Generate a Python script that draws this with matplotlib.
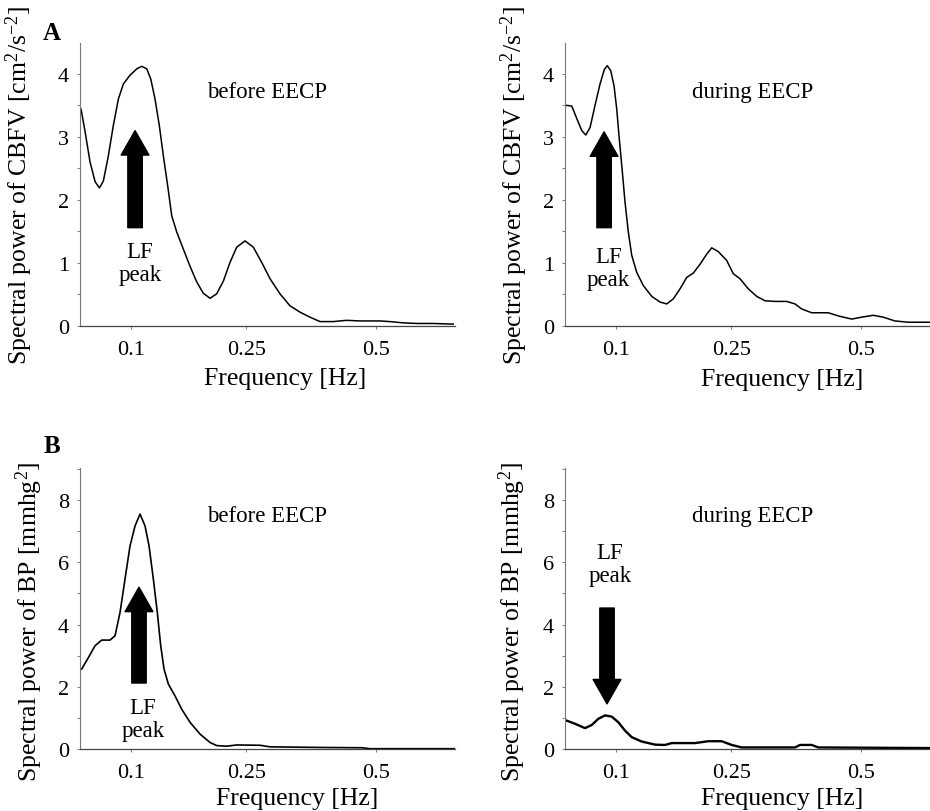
import numpy as np
import matplotlib
matplotlib.use("Agg")
import matplotlib.pyplot as plt
from matplotlib.ticker import MultipleLocator

plt.rcParams['font.family'] = ['Liberation Serif', 'DejaVu Serif']
plt.rcParams['mathtext.fontset'] = 'custom'
plt.rcParams['mathtext.rm'] = 'Liberation Serif'
plt.rcParams['mathtext.it'] = 'Liberation Serif:italic'

# frequencies [Hz] and spectral power
cbfv_before_f = [0.0558, 0.0589, 0.0628, 0.0669, 0.0705, 0.0739, 0.0783, 0.0828,
                 0.0875, 0.0923, 0.0989, 0.1058, 0.1110, 0.1164, 0.1208, 0.1256,
                 0.1305, 0.1352, 0.1404, 0.1452, 0.1514, 0.1597, 0.1683, 0.1772,
                 0.1862, 0.1956, 0.2051, 0.2148, 0.2249, 0.2351, 0.2482, 0.2616,
                 0.2754, 0.2896, 0.3070, 0.3249, 0.3434, 0.3624, 0.3819, 0.4086,
                 0.4364, 0.4649, 0.5095, 0.5326, 0.5640, 0.5966, 0.6382, 0.6904]
cbfv_before_p = [3.44, 3.08, 2.60, 2.29, 2.19, 2.30, 2.70, 3.18,
                 3.60, 3.84, 3.98, 4.08, 4.12, 4.08, 3.92, 3.60,
                 3.18, 2.70, 2.22, 1.75, 1.49, 1.22, 0.95, 0.70,
                 0.52, 0.44, 0.51, 0.71, 1.01, 1.25, 1.35, 1.25,
                 1.01, 0.75, 0.51, 0.32, 0.22, 0.14, 0.07, 0.07,
                 0.09, 0.08, 0.08, 0.07, 0.05, 0.04, 0.04, 0.03]

cbfv_during_f = [0.0563, 0.0602, 0.0642, 0.0683, 0.0717, 0.0754, 0.0798, 0.0844,
                 0.0884, 0.0913, 0.0946, 0.0979, 0.1006, 0.1032, 0.1064, 0.1092,
                 0.1127, 0.1164, 0.1219, 0.1294, 0.1392, 0.1493, 0.1576, 0.1661,
                 0.1750, 0.1840, 0.1932, 0.2027, 0.2125, 0.2199, 0.2299, 0.2429,
                 0.2534, 0.2643, 0.2781, 0.2925, 0.3070, 0.3249, 0.3466, 0.3624,
                 0.3754, 0.3953, 0.4293, 0.4504, 0.4796, 0.5020, 0.5285, 0.5520,
                 0.5802, 0.6129, 0.6685]
cbfv_during_p = [3.50, 3.49, 3.29, 3.10, 3.03, 3.15, 3.50, 3.84,
                 4.07, 4.13, 4.05, 3.81, 3.44, 2.97, 2.44, 1.96,
                 1.49, 1.12, 0.85, 0.64, 0.47, 0.38, 0.35, 0.43,
                 0.59, 0.77, 0.84, 0.98, 1.14, 1.24, 1.18, 1.04,
                 0.83, 0.75, 0.59, 0.47, 0.40, 0.39, 0.39, 0.35,
                 0.27, 0.21, 0.21, 0.16, 0.11, 0.14, 0.17, 0.14,
                 0.08, 0.06, 0.06]

bp_before_f = [0.0563, 0.0615, 0.0669, 0.0725, 0.0798, 0.0844, 0.0891, 0.0939,
               0.0989, 0.1040, 0.1092, 0.1145, 0.1189, 0.1237, 0.1282, 0.1321,
               0.1360, 0.1411, 0.1492, 0.1576, 0.1683, 0.1817, 0.1956, 0.2051,
               0.2199, 0.2351, 0.2725, 0.2894, 0.3819, 0.4693, 0.4869, 0.6950]
bp_before_p = [2.57, 2.94, 3.32, 3.50, 3.50, 3.64, 4.39, 5.46,
               6.53, 7.17, 7.55, 7.17, 6.53, 5.46, 4.39, 3.32,
               2.57, 2.09, 1.71, 1.28, 0.86, 0.48, 0.21, 0.11,
               0.09, 0.13, 0.12, 0.07, 0.05, 0.04, 0.01, 0.01]

bp_during_f = [0.0563, 0.0628, 0.0710, 0.0768, 0.0828, 0.0891, 0.0956, 0.1022,
               0.1092, 0.1164, 0.1275, 0.1432, 0.1555, 0.1640, 0.1956, 0.2148,
               0.2351, 0.2509, 0.2671, 0.3624, 0.3721, 0.3953, 0.4086, 0.6685]
bp_during_p = [0.91, 0.81, 0.67, 0.77, 0.97, 1.08, 1.04, 0.86,
               0.59, 0.38, 0.24, 0.14, 0.13, 0.19, 0.19, 0.25,
               0.25, 0.13, 0.05, 0.05, 0.13, 0.13, 0.05, 0.03]

freq_ticks = [0.1, 0.25, 0.5]
freq_labels = ['0.1', '0.25', '0.5']

fig = plt.figure(figsize=(9.3, 8.12), dpi=100)

W = 375 / 930
H_top = 283 / 812
H_bot = 281 / 812
panels = [
    # left, bottom, height, f, p, ymax, major, minor, ylabel, text,
    # arrow (x, tail, tip), LF label (x, y), line width, ylabel (x, y), xlabel (x, y)
    (80 / 930, 1 - 327 / 812, H_top, cbfv_before_f, cbfv_before_p, 4.49, 1, 0.5,
     'Spectral power of CBFV [cm$^{2}$/s$^{-2}$]', 'before EECP',
     (0.1040, 1.56, 3.10), (0.1092, 1.0), 1.1, (-0.12, 0.5), (0.547, -0.145)),
    (565 / 930, 1 - 327 / 812, H_top, cbfv_during_f, cbfv_during_p, 4.49, 1, 0.5,
     'Spectral power of CBFV [cm$^{2}$/s$^{-2}$]', 'during EECP',
     (0.0882, 1.56, 3.08), (0.0924, 0.92), 1.1, (-0.093, 0.5), (0.58, -0.15)),
    (80 / 930, 1 - 750 / 812, H_bot, bp_before_f, bp_before_p, 9.03, 2, 1,
     'Spectral power of BP [mmhg$^{2}$]', 'before EECP',
     (0.1081, 2.12, 5.2), (0.1124, 0.96), 1.2, (-0.093, 0.456), (0.579, -0.135)),
    (565 / 930, 1 - 750 / 812, H_bot, bp_during_f, bp_during_p, 9.03, 2, 1,
     'Spectral power of BP [mmhg$^{2}$]', 'during EECP',
     (0.0910, 4.53, 1.45), (0.0939, 5.95), 1.7, (-0.099, 0.456), (0.58, -0.135)),
]

for (left, bottom, h, f, p, ymax, major, minor, ylabel, txt, arr, lf, lw,
     ylpos, xlpos) in panels:
    ax = fig.add_axes([left, bottom, W, h])
    ax.set_xscale('function', functions=(np.sqrt, np.square))
    ax.plot(f, p, color='black', lw=lw, solid_joinstyle='round')
    ax.set_xlim(0.055, 0.695)
    ax.set_ylim(0, ymax)
    ax.set_xticks(freq_ticks)
    ax.set_xticklabels(freq_labels)
    ax.xaxis.set_minor_locator(plt.NullLocator())
    ax.yaxis.set_major_locator(MultipleLocator(major))
    ax.yaxis.set_minor_locator(MultipleLocator(minor))
    for side in ['top', 'right']:
        ax.spines[side].set_visible(False)
    ax.spines['left'].set_color('#777777')
    ax.spines['bottom'].set_color('#444444')
    ax.spines['left'].set_linewidth(0.8)
    ax.spines['bottom'].set_linewidth(0.9)
    ax.tick_params(axis='both', which='both', direction='out', length=2,
                   width=0.6, color='#666666', labelsize=16)
    ax.tick_params(axis='x', pad=8)
    ax.tick_params(axis='y', pad=6)
    ax.set_ylabel(ylabel, fontsize=18.5)
    ax.yaxis.set_label_coords(*ylpos)
    ax.set_xlabel('Frequency [Hz]', fontsize=18.5)
    ax.xaxis.set_label_coords(*xlpos)
    ax.text(0.5, 0.83, txt, transform=ax.transAxes, ha='center', va='center',
            fontsize=16.5)
    ax.annotate('', xy=(arr[0], arr[2]), xytext=(arr[0], arr[1]),
                arrowprops=dict(arrowstyle='simple,head_width=1.0,head_length=0.88,tail_width=0.52',
                                mutation_scale=20, color='black', shrinkA=0, shrinkB=0))
    ax.text(lf[0], lf[1], 'LF\npeak', ha='center', va='center', fontsize=16.5,
            linespacing=1.15)

fig.text(52 / 930, 1 - 33 / 812, 'A', ha='center', va='center', fontsize=18, fontweight='bold')
fig.text(52 / 930, 1 - 447 / 812, 'B', ha='center', va='center', fontsize=18, fontweight='bold')

fig.savefig('out.png', dpi=100)
